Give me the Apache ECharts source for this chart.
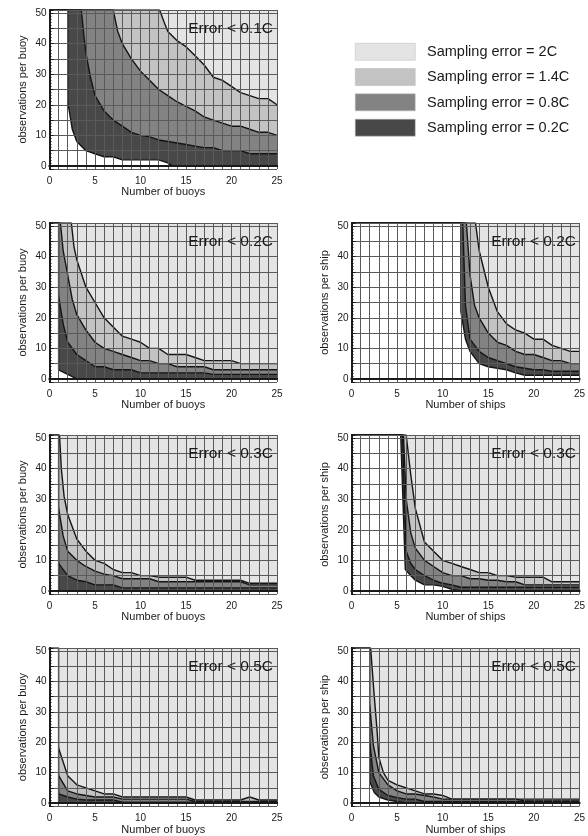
<!DOCTYPE html>
<html><head><meta charset="utf-8">
<script src="https://cdn.jsdelivr.net/npm/echarts@6/dist/echarts.min.js"></script>
<style>html,body{margin:0;padding:0;background:#fff}#c{width:588px;height:836px}</style>
</head><body><div id="c"></div>
<script>
// ---- data; TOP = above the plotted range ----
const TOP = 51;
const xLabelTicks = [0, 5, 10, 15, 20, 25];
const yLabelTicks = [0, 10, 20, 30, 40, 50];
const legendLabels = ['Sampling error = 2C', 'Sampling error = 1.4C', 'Sampling error = 0.8C', 'Sampling error = 0.2C'];
const panelTitles = ['Error < 0.1C', 'Error < 0.2C', 'Error < 0.2C', 'Error < 0.3C', 'Error < 0.3C', 'Error < 0.5C', 'Error < 0.5C'];

// Panel A: buoys, error < 0.1C   (boundaries: 2C|1.4C, 1.4C|0.8C, 0.8C|0.2C, 0.2C|none)
const a14 = [[0,TOP],[12.1,TOP],[12.6,47],[13,44],[14,41],[15,39],[16,36],[17,33],[18,29],[19,28],[20,26],[21,24],[22,23],[23,22],[24,22],[25,20]];
const a08 = [[0,TOP],[7,TOP],[7.5,44],[8,40],[9,35],[10,31],[11,28],[12,25],[13,23],[14,21],[15,19.5],[16,18],[17,16],[18,15],[19,14],[20,13],[21,13],[22,12],[23,11],[24,11],[25,10]];
const a02 = [[0,TOP],[3.5,TOP],[3.8,42],[4,37],[4.5,29],[5,23],[6,18],[7,15],[8,13],[9,11],[10,10],[11,9.5],[12,8.5],[13,8],[14,7.5],[15,7],[16,6.5],[17,6],[18,6],[19,5],[20,5],[21,5],[22,4],[23,4],[24,4],[25,4]];
const a00 = [[0,TOP],[2,TOP],[2,21],[2.5,12],[3,8],[4,5],[5,4],[6,3],[7,3],[8,2],[9,2],[10,2],[11,2],[12,2],[13,1],[13.5,0],[25,0]];
// Panel B: buoys, error < 0.2C
const b14 = [[0,TOP],[2.4,TOP],[2.7,43],[3,39],[4,30],[5,25],[6,20],[7,17],[8,14],[9,13],[10,12],[11,10],[12,10],[13,8],[14,8],[15,8],[16,7],[17,6],[18,6],[19,6],[20,6],[21,5],[22,5],[23,5],[24,5],[25,5]];
const b08 = [[0,TOP],[1.2,TOP],[1.5,42],[2,34],[2.5,26],[3,21],[4,16],[5,12],[6,10],[7,9],[8,8],[9,7],[10,6],[11,6],[12,5],[13,5],[14,4],[15,4],[16,4],[17,4],[18,3],[19,3],[20,3],[21,3],[22,3],[23,3],[24,3],[25,3]];
const b02 = [[0,TOP],[1,27],[1.5,18],[2,12],[3,8],[4,6],[5,4],[6,4],[7,3],[8,3],[9,3],[10,2],[11,2],[12,2],[13,2],[14,2],[15,2],[16,2],[17,2],[18,1.5],[19,1.5],[20,1.5],[21,1.5],[22,1.5],[23,1.5],[24,1.5],[25,1.5]];
const b00 = [[0,TOP],[1,TOP],[1,3],[2,1.5],[3,0],[25,0]];
// Panel C: ships, error < 0.2C
const c14 = [[0,TOP],[13.6,TOP],[14,42],[15,30],[16,22],[17,18],[18,16],[19,15],[20,13],[21,13],[22,11],[23,10],[24,9],[25,9]];
const c08 = [[0,TOP],[12.6,TOP],[13,34],[13.5,24],[14,20],[15,15],[16,12],[17,11],[18,9],[19,8],[20,8],[21,7],[22,6],[23,6],[24,5],[25,5]];
const c02 = [[0,TOP],[12.2,TOP],[12.5,24],[13,13],[14,9],[15,7],[16,6],[17,5],[18,4],[19,3.5],[20,3],[21,3],[22,2.5],[23,2.5],[24,2.5],[25,2.5]];
const c00 = [[0,TOP],[12,TOP],[12,22],[12.5,13],[13,9],[14,5],[15,4],[16,3.5],[17,3],[18,2],[19,1.2],[20,1.2],[21,1.2],[22,1.2],[23,1.2],[24,1.2],[25,1.2]];
// Panel D: buoys, error < 0.3C
const d14 = [[0,TOP],[1.1,TOP],[1.3,40],[1.6,31],[2,25],[3,17],[4,13],[5,10],[6,9],[7,7],[8,6],[9,6],[10,5],[11,5],[12,4.5],[13,4.5],[14,4.5],[15,4.5],[16,3.5],[17,3.5],[18,3.5],[19,3.5],[20,3.5],[21,3.5],[22,2.5],[23,2.5],[24,2.5],[25,2.5]];
const d08 = [[0,TOP],[1,27],[1.5,18],[2,13],[3,10],[4,8],[5,6.5],[6,5.5],[7,5],[8,4],[9,4],[10,4],[11,4],[12,3],[13,3],[14,3],[15,3],[16,3],[17,3],[18,3],[19,3],[20,3],[21,3],[22,2],[23,2],[24,2],[25,2]];
const d02 = [[0,TOP],[1,9],[2,5],[3,3.5],[4,3],[5,2],[6,2],[7,2],[8,1],[9,1],[10,1],[11,1],[12,1],[13,1],[14,1],[15,1],[16,1],[17,1],[18,1],[19,1],[20,1],[21,1],[22,1],[23,1],[24,1],[25,1]];
const d00 = [[0,TOP],[1,TOP],[1,0],[25,0]];
// Panel E: ships, error < 0.3C
const e14 = [[0,TOP],[6,TOP],[6.5,38],[7,27],[8,16],[9,13],[10,10],[11,9],[12,8],[13,7],[14,6],[15,6],[16,5],[17,5],[18,4.5],[19,4.5],[20,4.5],[21,4.5],[22,3],[23,3],[24,3],[25,3]];
const e08 = [[0,TOP],[5.7,TOP],[6,30],[6.5,19],[7,14],[8,10],[9,8],[10,6],[11,5],[12,5],[13,4],[14,4],[15,3.5],[16,3.5],[17,3],[18,3],[19,2],[20,2],[21,2],[22,2],[23,2],[24,2],[25,2]];
const e02 = [[0,TOP],[5.6,TOP],[6,13],[6.5,9],[7,7],[8,5],[9,3.5],[10,2.5],[11,2],[12,1.2],[13,1.2],[14,1.2],[15,1.2],[16,1.2],[17,1.2],[18,1.2],[19,1.2],[20,1.2],[21,1.2],[22,1.2],[23,1.2],[24,1.2],[25,1.2]];
const e00 = [[0,TOP],[5.4,TOP],[5.9,7],[6.5,5],[7,3.5],[8,2],[9,2],[10,1.5],[11,0.5],[12,0],[25,0]];
// Panel F: buoys, error < 0.5C
const f14 = [[0,TOP],[1,18],[2,9],[3,6],[4,5],[5,4],[6,3],[7,3],[8,2],[9,2],[10,2],[11,2],[12,2],[13,2],[14,2],[15,2],[16,1],[17,1],[18,1],[19,1],[20,1],[21,1],[22,2],[23,1],[24,1],[25,1]];
const f08 = [[0,TOP],[1,9],[2,4],[3,3],[4,2.5],[5,2],[6,2],[7,2],[8,1.3],[9,1.3],[10,1.3],[11,1.3],[12,1.3],[13,1.3],[14,1.3],[15,1.3],[16,0.5],[17,0.5],[18,0.5],[19,0.5],[20,0.5],[21,0.5],[22,0.5],[23,0.5],[24,0.5],[25,0.5]];
const f02 = [[0,TOP],[1,3],[2,2],[3,1.3],[4,1],[5,1],[6,1],[7,1],[8,0.3],[9,0.3],[10,0.3],[11,0.3],[12,0.3],[13,0.3],[14,0.3],[15,0.3],[16,0.3],[17,0.3],[18,0.3],[19,0.3],[20,0.3],[21,0.3],[22,0.3],[23,0.3],[24,0.3],[25,0.3]];
const f00 = [[0,TOP],[1,TOP],[1,0],[25,0]];
// Panel G: ships, error < 0.5C
const g14 = [[0,TOP],[2.1,TOP],[2.5,35],[2.8,24],[3,15],[3.5,10],[4,7.5],[5,6],[6,5],[7,4],[8,3],[9,3],[10,2.5],[11,1.3],[12,1.3],[13,1.3],[14,1.3],[15,1.3],[16,1.3],[17,1.3],[18,1.3],[19,1.3],[20,1.3],[21,1.3],[22,1.3],[23,1.3],[24,1.3],[25,1.3]];
const g08 = [[0,TOP],[2,32],[2.4,19],[3,10],[4,6],[5,4],[6,3],[7,3],[8,2.5],[9,2],[10,1.3],[11,1.3],[12,1.3],[13,1.3],[14,1.3],[15,1.3],[16,1.3],[17,1.3],[18,1.3],[19,0.7],[20,0.7],[21,0.7],[22,0.7],[23,0.7],[24,0.7],[25,0.7]];
const g02 = [[0,TOP],[2,20],[2.4,9],[3,4.5],[4,2.5],[5,1.8],[6,1.3],[7,1.3],[8,0.5],[9,0.5],[10,0.5],[11,0.5],[12,0.5],[13,0.5],[14,0.5],[15,0.5],[16,0.5],[17,0.5],[18,0.5],[19,0.5],[20,0.5],[21,0.5],[22,0.5],[23,0.5],[24,0.5],[25,0.5]];
const g00 = [[0,TOP],[2,TOP],[2,7],[2.5,3.5],[3,2],[4,1],[5,0.5],[6,0],[25,0]];

// ---- layout & style ----
const FONT = '"Liberation Sans", Arial, sans-serif';
const bandColors = ['#c3c3c3', '#838383', '#484848', '#ffffff'];
const legendColors = ['#e4e4e4', '#c3c3c3', '#838383', '#484848'];
const bgColor = '#e4e4e4';
const H = 159;
const panels = [
  {left: 49.5, top: 10,  w: 227.5, xName: 'Number of buoys', yName: 'observations per buoy', curves: [a14, a08, a02, a00]},
  {left: 49.5, top: 223, w: 227.5, xName: 'Number of buoys', yName: 'observations per buoy', curves: [b14, b08, b02, b00]},
  {left: 351.5, top: 223, w: 228.5, xName: 'Number of ships', yName: 'observations per ship', curves: [c14, c08, c02, c00]},
  {left: 49.5, top: 435, w: 227.5, xName: 'Number of buoys', yName: 'observations per buoy', curves: [d14, d08, d02, d00]},
  {left: 351.5, top: 435, w: 228.5, xName: 'Number of ships', yName: 'observations per ship', curves: [e14, e08, e02, e00]},
  {left: 49.5, top: 648, w: 227.5, xName: 'Number of buoys', yName: 'observations per buoy', curves: [f14, f08, f02, f00]},
  {left: 351.5, top: 648, w: 228.5, xName: 'Number of ships', yName: 'observations per ship', curves: [g14, g08, g02, g00]}
];

const grid = [], xAxis = [], yAxis = [], series = [], title = [], graphic = [];
const frame = {show: true, lineStyle: {color: '#1a1a1a', width: 2}};
const AXZ = 10;
panels.forEach((p, i) => {
  grid.push({left: p.left, top: p.top, width: p.w, height: H, show: true, backgroundColor: bgColor, borderWidth: 0});
  xAxis.push({
    type: 'value', gridIndex: i, min: 0, max: 25, interval: 1, z: AXZ,
    axisLine: frame, axisTick: {show: false},
    axisLabel: {fontSize: 10, fontFamily: FONT, color: '#1a1a1a', margin: 7,
      formatter: v => xLabelTicks.includes(v) ? String(v) : ''},
    splitLine: {show: true, lineStyle: {color: '#5a5a5a', width: 1}},
    name: p.xName, nameLocation: 'middle', nameGap: 13,
    nameTextStyle: {fontSize: 11, fontFamily: FONT, color: '#1a1a1a'}
  });
  xAxis.push({type: 'value', gridIndex: i, position: 'top', min: 0, max: 25, z: AXZ,
    axisLine: frame, axisTick: {show: false}, axisLabel: {show: false}, splitLine: {show: false}});
  yAxis.push({
    type: 'value', gridIndex: i, min: -1, max: TOP, splitNumber: 10, z: AXZ,
    axisLine: frame,
    axisTick: {show: true, inside: true, length: 4, lineStyle: {color: '#1a1a1a'}},
    minorTick: {show: true, splitNumber: 5, length: 2, lineStyle: {color: '#1a1a1a'}},
    axisLabel: {fontSize: 10, fontFamily: FONT, color: '#1a1a1a', margin: 3,
      formatter: v => yLabelTicks.includes(v) ? String(v) : ''},
    splitLine: {show: true, lineStyle: {color: '#5a5a5a', width: 1}},
    name: p.yName, nameLocation: 'middle', nameGap: 21,
    nameTextStyle: {fontSize: 11, fontFamily: FONT, color: '#1a1a1a'}
  });
  yAxis.push({type: 'value', gridIndex: i, position: 'right', min: -1, max: TOP, z: AXZ,
    axisLine: frame, axisTick: {show: false}, axisLabel: {show: false}, splitLine: {show: false}});
  p.curves.forEach((c, k) => {
    series.push({
      type: 'line', name: legendLabels[k + 1] || 'none', xAxisIndex: 2 * i, yAxisIndex: 2 * i,
      data: c, symbol: 'none', silent: true, z: 2 + k,
      lineStyle: {color: '#141414', width: 1.4},
      areaStyle: {color: bandColors[k], opacity: 1, origin: 'start'}
    });
  });
  title.push({
    text: panelTitles[i], right: 588 - (p.left + p.w) + 4, top: p.top + 11, padding: 0, z: AXZ + 1,
    textStyle: {fontSize: 15.5, fontWeight: 'normal', fontFamily: FONT, color: '#1a1a1a'}
  });
});

legendLabels.forEach((t, k) => {
  const y = 43 + k * 25.3;
  graphic.push({type: 'rect', left: 355, top: y, shape: {width: 60, height: 17},
    style: {fill: legendColors[k], stroke: '#b8b8b8', lineWidth: 0.5}});
  graphic.push({type: 'text', left: 427, top: y + 1.5,
    style: {text: t, font: '14.5px ' + FONT, fill: '#1a1a1a'}});
});

const chart = echarts.init(document.getElementById('c'), null, {renderer: 'canvas'});
chart.setOption({animation: false, backgroundColor: '#ffffff', grid, xAxis, yAxis, series, title, graphic});
</script></body></html>
